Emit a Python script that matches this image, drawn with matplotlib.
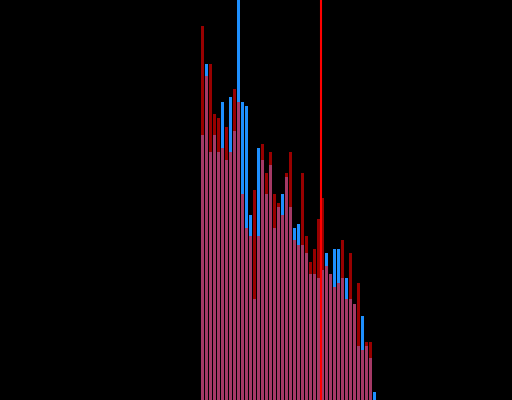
import matplotlib
matplotlib.use("Agg")
import matplotlib.pyplot as plt
import numpy as np

# bin index of each bar
bins = list(range(44))

# two overlapping histograms (heights)
blue_counts = [265, 336, 248, 265, 248, 298, 240, 303, 269, 400, 298, 294, 185, 101,
               252, 240, 206, 235, 172, 193, 206, 223, 193, 172, 176, 155, 147, 126,
               126, 122, 130, 147, 126, 151, 151, 122, 122, 101, 96, 54, 84, 54, 42, 8]
red_counts = [374, 324, 336, 286, 282, 252, 273, 248, 311, 298, 206, 172, 164, 210,
              164, 256, 227, 248, 206, 197, 185, 227, 248, 160, 155, 227, 164, 138,
              151, 181, 202, 134, 126, 113, 117, 160, 101, 147, 96, 117, 50, 58, 58, 0]

# marker line
cut_at = 29.5

fig = plt.figure(figsize=(5.12, 4.0), dpi=100, facecolor="black")
ax = fig.add_axes([0, 0, 1, 1])
ax.set_facecolor("black")

ax.bar(bins, blue_counts, width=0.75, color="dodgerblue", linewidth=0)
ax.bar(bins, red_counts, width=0.75, color="red", alpha=0.6, linewidth=0)
ax.axvline(cut_at, color="red", linewidth=1.5)

ax.set_xlim(-50.625, 77.375)
ax.set_ylim(0, 400)
ax.axis("off")

fig.savefig("out.png", dpi=100, facecolor="black")
